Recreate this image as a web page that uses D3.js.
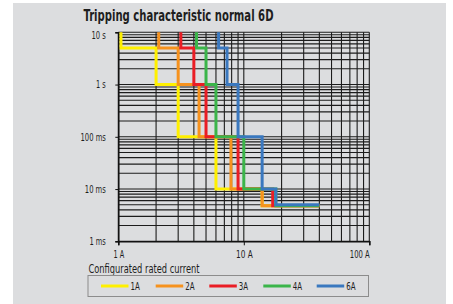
<!DOCTYPE html>
<html><head><meta charset="utf-8">
<script src="https://cdn.jsdelivr.net/npm/d3@7"></script>
<style>
html,body{margin:0;padding:0;background:#fff;}
svg{display:block;}
text{font-family:"Liberation Sans Narrow","Arial Narrow","DejaVu Sans Condensed",sans-serif;fill:#1e1e1e;}
</style></head>
<body>
<script>
// ---- data ----
const title = "Tripping characteristic normal 6D";
const legendTitle = "Configurated rated current";
const seriesNames = ["1A", "2A", "3A", "4A", "6A"];
const seriesColors = ["#fff000", "#f6921e", "#ea1d25", "#3bb54a", "#3a78bf"];
// time levels (s) of the step curve: start, then each step
const timeLevels = [10, 5, 1, 0.1, 0.01, 0.005];
const tailTimes = [0.0048, 0.0048, 0.0048, 0.0048, 0.005];
// current (A) break points of each curve
const current1A = [1.05, 2, 3, 6, 14, 40];
const current2A = [2.1, 3, 4.4, 7.9, 14, 40];
const current3A = [3.15, 4, 5, 9, 17, 40];
const current4A = [4.2, 5, 6, 10, 18, 40];
const current6A = [6.3, 7.35, 9, 14, 18, 40];
const currents = [current1A, current2A, current3A, current4A, current6A];
const xTickValues = [1, 10, 100];
const xTickLabels = ["1 A", "10 A", "100 A"];
const yTickValues = [10, 1, 0.1, 0.01, 0.001];
const yTickLabels = ["10 s", "1 s", "100 ms", "10 ms", "1 ms"];

// text widths (px) to mimic the condensed face
const xLabelW = [10.7, 16.7, 20];
const yLabelW = [14.3, 9.7, 25.3, 21, 16.3];
const legLabelW = 9.3;

// ---- layout ----
const W = 453, H = 304;
const svg = d3.select("body").append("svg").attr("width", W).attr("height", H);
svg.append("rect").attr("x", 13).attr("y", 3).attr("width", 433).attr("height", 301).attr("fill", "#dcdddf");

const x = d3.scaleLog().domain([1, 100]).range([118.3, 369.3]);
const y = d3.scaleLog().domain([10, 0.001]).range([32.3, 241.3]);

svg.append("text").attr("x", 83.5).attr("y", 20.7)
  .attr("font-size", 15).attr("font-weight", "bold").attr("fill", "#111")
  .attr("textLength", 190).attr("lengthAdjust", "spacingAndGlyphs")
  .text(title);

// grid
const xGrid = [];
for (let k = 0; k < 2; k++) for (let m = 1; m < 10; m++) xGrid.push(m * Math.pow(10, k));
xGrid.push(100);
const yGrid = [];
for (let k = -3; k < 1; k++) for (let m = 1; m < 10; m++) yGrid.push(m * Math.pow(10, k));
yGrid.push(10);

const grid = svg.append("g").attr("stroke", "#1c1c1c").attr("stroke-width", 1.1);
grid.selectAll(".vx").data(xGrid).enter().append("line")
  .attr("x1", d => x(d)).attr("x2", d => x(d)).attr("y1", y(10)).attr("y2", y(0.001));
grid.selectAll(".hy").data(yGrid).enter().append("line")
  .attr("y1", d => y(d)).attr("y2", d => y(d)).attr("x1", x(1)).attr("x2", x(100));

// axes
const xAxis = d3.axisBottom(x).tickValues(xTickValues).tickSize(4).tickFormat((d, i) => xTickLabels[i]);
const gx = svg.append("g").attr("transform", `translate(0,${y(0.001)})`).call(xAxis);
gx.select(".domain").attr("stroke", "#111").attr("stroke-width", 1.5);
gx.selectAll(".tick line").attr("stroke", "#111");
gx.selectAll(".tick text").attr("font-size", 10.5).attr("font-family", null).attr("fill", "#1e1e1e").attr("dy", "0.9em")
  .attr("text-anchor", (d, i) => i === xTickValues.length - 1 ? "end" : "middle")
  .attr("textLength", (d, i) => xLabelW[i]).attr("lengthAdjust", "spacingAndGlyphs");

const yAxis = d3.axisLeft(y).tickValues(yTickValues).tickSize(3).tickPadding(9.5).tickFormat((d, i) => yTickLabels[i]);
const gy = svg.append("g").attr("transform", `translate(${x(1)},0)`).call(yAxis);
gy.select(".domain").attr("stroke", "#111").attr("stroke-width", 1.5);
gy.selectAll(".tick line").attr("stroke", "#111");
gy.selectAll(".tick text").attr("font-size", 10).attr("font-family", null).attr("fill", "#1e1e1e")
  .attr("dy", (d, i) => i === 0 ? "0.65em" : "0.32em")
  .attr("textLength", (d, i) => yLabelW[i]).attr("lengthAdjust", "spacingAndGlyphs");

// curves
function stepPoints(xs, tail) {
  const t = timeLevels.slice(); t[t.length - 1] = tail;
  const pts = [[xs[0], t[0]]];
  for (let i = 0; i < xs.length - 1; i++) {
    pts.push([xs[i], t[i + 1]]);
    pts.push([xs[i + 1], t[i + 1]]);
  }
  return pts;
}
const line = d3.line().x(d => x(d[0])).y(d => y(d[1]));
svg.append("g").selectAll("path").data(currents).enter().append("path")
  .attr("d", (d, i) => line(stepPoints(d, tailTimes[i])))
  .attr("fill", "none").attr("stroke", (d, i) => seriesColors[i])
  .attr("stroke-width", 3).attr("stroke-linejoin", "miter").attr("stroke-linecap", "butt");

// legend
svg.append("text").attr("x", 88.5).attr("y", 272.5).attr("font-size", 12.5)
  .attr("textLength", 111).attr("lengthAdjust", "spacingAndGlyphs").text(legendTitle);
svg.append("rect").attr("x", 88).attr("y", 275.5).attr("width", 280.5).attr("height", 21)
  .attr("fill", "none").attr("stroke", "#8c8c8c").attr("stroke-width", 1);
const legX = [101, 155.7, 209.3, 263.3, 316.7];
const lg = svg.append("g").selectAll("g").data(seriesNames).enter().append("g")
  .attr("transform", (d, i) => `translate(${legX[i]},286)`);
lg.append("line").attr("x1", 0).attr("x2", 27.5).attr("stroke", (d, i) => seriesColors[i]).attr("stroke-width", 3);
lg.append("text").attr("x", 29.5).attr("dy", "0.35em").attr("font-size", 10.5)
  .attr("textLength", legLabelW).attr("lengthAdjust", "spacingAndGlyphs").text(d => d);
</script>
</body></html>
